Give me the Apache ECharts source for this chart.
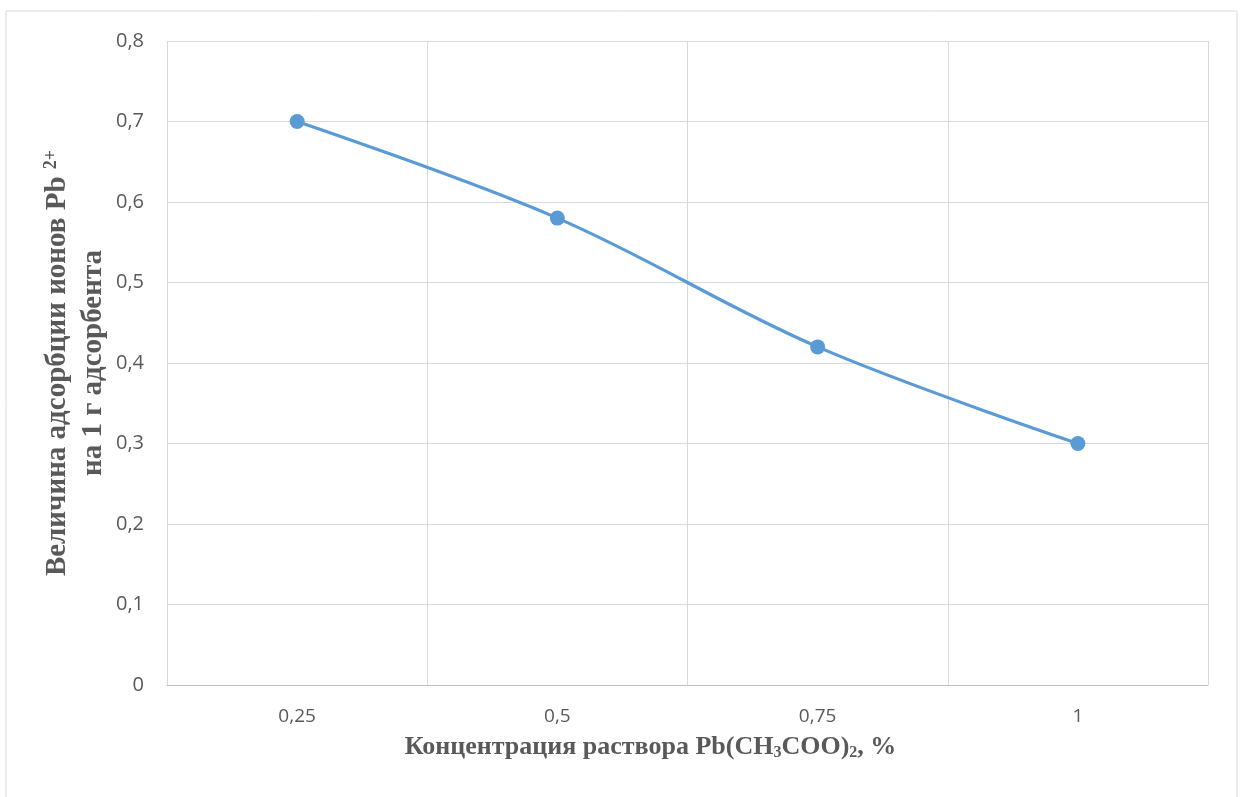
<!DOCTYPE html>
<html>
<head>
<meta charset="utf-8">
<script src="https://cdn.jsdelivr.net/npm/echarts@6/dist/echarts.min.js"></script>
<style>
  html, body { margin: 0; padding: 0; background: #fff; }
  #chart { width: 1241px; height: 797px; }
</style>
</head>
<body>
<div id="chart"></div>
<script>
const categories = ["0,25", "0,5", "0,75", "1"];
const adsorption = [0.7, 0.58, 0.42, 0.3];
const yTicks = { min: 0, max: 0.8, interval: 0.1 };

const chart = echarts.init(document.getElementById("chart"));
const textColor = "#595959";
const titleFont = "'Liberation Serif', 'Times New Roman', serif";

const option = {
  backgroundColor: "#fff",
  animation: false,
  graphic: [
    {
      type: "rect",
      shape: { x: 6, y: 11, width: 1231, height: 800 },
      style: { fill: "none", stroke: "#d9d9d9", lineWidth: 1 },
      silent: true,
    },
  ],
  grid: { left: 167, right: 33, top: 41, bottom: 112 },
  xAxis: {
    type: "category",
    data: categories,
    boundaryGap: true,
    axisLine: { lineStyle: { color: "#bfbfbf", width: 1 } },
    axisTick: { show: false },
    splitLine: { show: true, interval: 0, lineStyle: { color: "#d9d9d9" } },
    axisLabel: {
      color: textColor,
      fontSize: 19,
      fontFamily: "'Open Sans', sans-serif",
      margin: 22,
    },
    name: "Концентрация раствора Pb(CH{sub|3}COO){sub|2}, %",
    nameLocation: "middle",
    nameGap: 48,
    nameTextStyle: {
      color: textColor,
      fontFamily: titleFont,
      fontWeight: "bold",
      fontSize: 26,
      padding: [0, 74, 0, 0],
      rich: {
        sub: {
          color: textColor,
          fontFamily: titleFont,
          fontWeight: "bold",
          fontSize: 16,
          padding: [12, 0, 0, 0],
        },
      },
    },
  },
  yAxis: {
    type: "value",
    min: yTicks.min,
    max: yTicks.max,
    interval: yTicks.interval,
    axisLine: { show: false },
    axisTick: { show: false },
    splitLine: { lineStyle: { color: "#d9d9d9" } },
    axisLabel: {
      color: textColor,
      fontSize: 20,
      fontFamily: "'Open Sans', sans-serif",
      margin: 23,
      formatter: (v) => String(Math.round(v * 10) / 10).replace(".", ","),
    },
    name: "Величина адсорбции ионов Pb {sup|2+}\nна 1 г адсорбента",
    nameLocation: "middle",
    nameMoveOverlap: false,
    nameGap: 55,
    nameRotate: 90,
    nameTextStyle: {
      color: textColor,
      fontFamily: titleFont,
      fontWeight: "bold",
      fontSize: 29,
      lineHeight: 36,
      align: "center",
      rich: {
        sup: {
          color: textColor,
          fontFamily: titleFont,
          fontWeight: "bold",
          fontSize: 18,
          padding: [0, 0, 14, 0],
        },
      },
    },
  },
  series: [
    {
      type: "line",
      data: adsorption,
      smooth: 0.35,
      symbol: "circle",
      symbolSize: 15,
      lineStyle: { color: "#5b9bd5", width: 3.2 },
      itemStyle: { color: "#5b9bd5" },
    },
  ],
};

option && chart.setOption(option);
</script>
</body>
</html>
